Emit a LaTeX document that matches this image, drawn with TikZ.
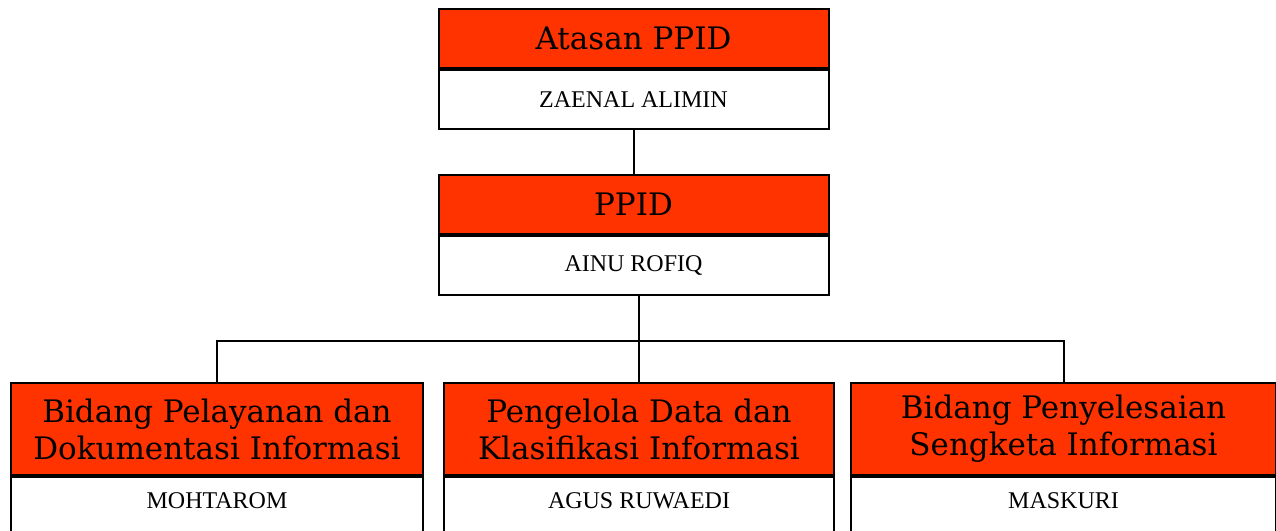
\documentclass[tikz,border=0pt]{standalone}
\usepackage{fontspec}
\setmainfont{Liberation Serif}
\newfontfamily\headfont{DejaVu Serif}
\usetikzlibrary{positioning}
\definecolor{headred}{RGB}{255,51,0}

\begin{document}
\begin{tikzpicture}[x=1pt, y=-1pt, line width=2pt,
		head/.style={draw, fill=headred, minimum width=390pt, minimum height=59pt, inner sep=0pt, align=center, font=\headfont\fontsize{31}{37}\selectfont},
		person/.style={draw, fill=white, minimum width=390pt, minimum height=59pt, inner sep=0pt, font=\fontsize{24}{26}\selectfont},
		bottom/.style={minimum height=0pt, text height=31pt, text depth=45pt}]
			\clip (0,0) rectangle (1276,530);
			\node[head, anchor=north] (atasan) at (633.5,8) {Atasan PPID};
			\node[person, below=0pt of atasan] (atasanname) {ZAENAL ALIMIN};
			\node[head, anchor=north] (ppid) at (633.5,174) {PPID};
			\node[person, below=0pt of ppid] (ppidname) {AINU ROFIQ};
			\node[head, minimum width=412pt, minimum height=92pt, anchor=north west] (pelayanan) at (10,382) {Bidang Pelayanan dan\\Dokumentasi Informasi};
			\node[person, bottom, minimum width=412pt, below=0pt of pelayanan] (pelayananname) {MOHTAROM};
			\node[head, minimum height=92pt, anchor=north west] (data) at (443,382) {Pengelola Data dan\\Klasifikasi Informasi};
			\node[person, bottom, below=0pt of data] (dataname) {AGUS RUWAEDI};
			\node[head, minimum width=425pt, minimum height=92pt, anchor=north west] (sengketa) at (850,382) {Bidang Penyelesaian\\Sengketa Informasi};
			\node[person, bottom, minimum width=425pt, below=0pt of sengketa] (sengketaname) {MASKURI};
			\coordinate (bar) at (638,341);
			\draw (atasanname) -- (ppid);
			\draw (ppidname.south -| data.north) -- (data.north);
			\draw (pelayanan.north) |- (bar) -| (sengketa.north);
		\end{tikzpicture}
\end{document}
